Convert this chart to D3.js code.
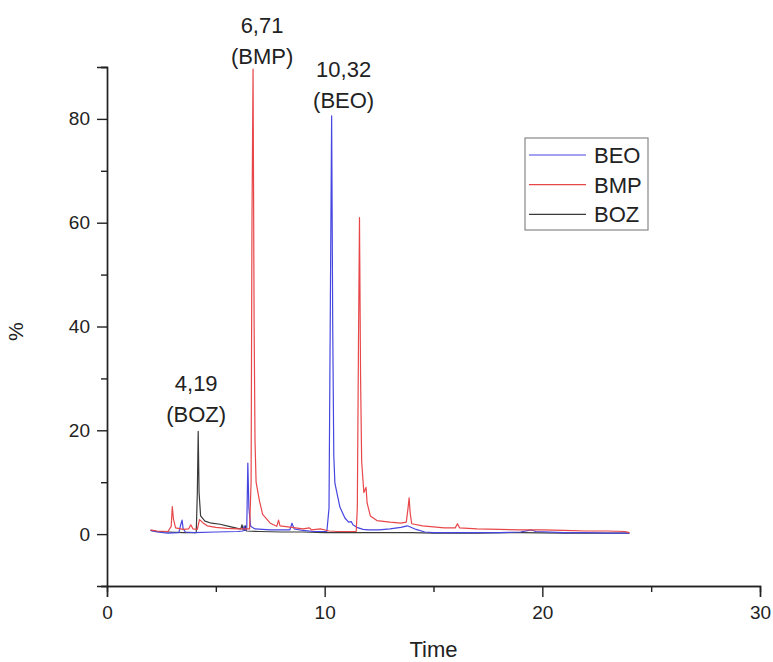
<!DOCTYPE html>
<html>
<head>
<meta charset="utf-8">
<script src="https://cdn.jsdelivr.net/npm/d3@7"></script>
<style>
  body { margin: 0; background: #fff; }
  text { font-family: "Liberation Sans", Arial, sans-serif; fill: #222; }
</style>
</head>
<body>
<div id="container"></div>
<script>
/* CONSTANTS AND GLOBALS */
const width = 773,
  height = 662,
  margin = {top: 67, bottom: 76, left: 107, right: 13};

// series: [time, %]
const beo = [
  [2.0,0.7],[2.3,0.4],[2.8,0.2],[3.3,0.3],[3.4,2.0],[3.45,2.7],[3.5,1.0],[3.6,0.4],
  [4.0,0.3],[5.0,0.4],[6.0,0.5],[6.25,0.6],[6.3,1.6],[6.35,0.7],[6.42,1.0],[6.47,13.7],
  [6.52,5],[6.6,1.5],[6.8,1.0],[7.5,0.8],[8.4,0.8],[8.5,2.1],[8.6,1.0],[9.0,0.7],
  [9.5,0.5],[10.1,0.5],[10.2,5],[10.27,50],[10.32,80.6],[10.37,40],[10.42,15],[10.47,9.8],
  [10.7,5.2],[10.93,3.1],[11.1,2.3],[11.22,2.4],[11.3,1.8],[11.48,1.3],[11.76,0.9],[12.0,0.8],
  [12.5,0.8],[13.0,1.0],[13.5,1.3],[13.8,1.6],[14.2,0.9],[14.6,0.4],[15,0.3],[16,0.3],
  [17,0.3],[18,0.3],[19,0.4],[19.5,0.8],[19.7,0.5],[21,0.3],[22,0.3],[23,0.2],[24,0.2]
];
const bmp = [
  [2.0,0.8],[2.3,0.6],[2.8,0.5],[2.95,1.5],[3.0,5.3],[3.05,3.0],[3.15,1.2],[3.5,0.9],
  [3.75,1.0],[3.85,1.8],[3.95,1.0],[4.15,0.9],[4.25,2.8],[4.4,2.2],[4.6,1.6],[5.0,1.3],
  [5.5,1.1],[6.0,1.0],[6.55,1.0],[6.62,10],[6.66,60],[6.71,89.6],[6.76,40],[6.8,18],
  [6.85,10],[7.0,6.5],[7.15,3.8],[7.5,2.1],[7.8,1.5],[7.88,2.7],[7.95,1.6],[8.5,1.3],
  [9.0,1.0],[9.3,1.2],[9.4,0.8],[9.8,1.0],[10.2,0.6],[10.6,0.5],[11.0,0.5],[11.45,0.5],
  [11.5,5],[11.55,35],[11.6,61],[11.65,30],[11.7,14],[11.8,8],[11.9,9],[11.95,6],
  [12.1,3.5],[12.4,2.6],[13.0,2.3],[13.5,2.1],[13.75,2.3],[13.83,5],[13.88,7],[13.93,4],
  [14.0,2.0],[14.5,1.6],[15.0,1.4],[15.5,1.2],[16.0,1.2],[16.1,2.0],[16.2,1.2],[17,1.0],
  [18,0.9],[19,0.8],[20,0.8],[21,0.7],[22,0.6],[23,0.6],[23.8,0.5],[24.0,0.3]
];
const boz = [
  [2.0,0.7],[2.3,0.5],[2.8,0.4],[3.5,0.3],[4.1,0.3],[4.15,8],[4.19,19.8],[4.23,8],
  [4.3,3.5],[4.5,2.5],[4.8,2.1],[5.2,1.9],[5.6,1.5],[6.0,1.1],[6.15,1.0],[6.2,1.8],
  [6.25,0.9],[6.32,0.7],[6.36,1.6],[6.4,0.6],[7,0.5],[8,0.4],[9,0.4],[10,0.3],
  [11,0.3],[12,0.3],[13,0.3],[14,0.3],[15,0.2],[17,0.2],[19,0.3],[21,0.2],[23,0.2],[24,0.2]
];

const seriesNames = ["BEO", "BMP", "BOZ"];
const xTicks = [0, 10, 20, 30];
const yTicks = [0, 20, 40, 60, 80];

// peak labels
const peakTimes = [6.71, 10.32, 4.19];
const peakValues = [89.6, 80.6, 19.8];
const peakLabels = ["6,71", "10,32", "4,19"];
const peakNames = ["(BMP)", "(BEO)", "(BOZ)"];

const color = d3.scaleOrdinal()
  .domain(seriesNames)
  .range(["#4646e0", "#e8474a", "#3a3a3a"]);

const xScale = d3.scaleLinear().domain([0, 30]).range([margin.left, width - margin.right]);
const yScale = d3.scaleLinear().domain([-10, 90]).range([height - margin.bottom, margin.top]);

const svg = d3.select("#container")
  .append("svg")
  .attr("width", width)
  .attr("height", height);

/* AXES */
const xAxis = d3.axisBottom(xScale).tickValues(xTicks).tickSize(11).tickFormat(d3.format("d"));
const xMinor = d3.axisBottom(xScale).tickValues([5, 15, 25]).tickSize(6).tickFormat("");
const yAxis = d3.axisLeft(yScale).tickValues(yTicks).tickSize(10).tickFormat(d3.format("d"));
const yMinor = d3.axisLeft(yScale).tickValues([-10, 10, 30, 50, 70, 90]).tickSize(6).tickFormat("");

const gx = svg.append("g").attr("transform", `translate(0,${yScale(-10)})`).call(xAxis);
svg.append("g").attr("transform", `translate(0,${yScale(-10)})`).call(xMinor);
const gy = svg.append("g").attr("transform", `translate(${xScale(0)},0)`).call(yAxis);
svg.append("g").attr("transform", `translate(${xScale(0)},0)`).call(yMinor);

svg.selectAll(".domain").attr("stroke", "#222").attr("stroke-width", 1.4);
svg.selectAll(".tick line").attr("stroke", "#222").attr("stroke-width", 1.4);
gx.selectAll("text").attr("font-size", 19).attr("y", 33).attr("dy", 0).attr("fill", "#222");
gy.selectAll("text").attr("font-size", 19).attr("x", -17).attr("fill", "#222");

// axis titles
svg.append("text")
  .attr("x", xScale(15))
  .attr("y", 657)
  .attr("text-anchor", "middle")
  .attr("font-size", 22)
  .text("Time");

svg.append("text")
  .attr("transform", `translate(23,${yScale(39)}) rotate(-90)`)
  .attr("text-anchor", "middle")
  .attr("font-size", 21)
  .text("%");

/* LINES */
const line = d3.line()
  .x(d => xScale(d[0]))
  .y(d => yScale(d[1]));

const allSeries = [beo, bmp, boz];
// draw BOZ first, then BEO, then BMP on top
[2, 0, 1].forEach(i => {
  svg.append("path")
    .datum(allSeries[i])
    .attr("fill", "none")
    .attr("stroke", color(seriesNames[i]))
    .attr("stroke-width", 1.2)
    .attr("stroke-linejoin", "round")
    .attr("d", line);
});

/* PEAK LABELS */
const labelShift = [9, 12, -2];
const labelGap = [5, 8, 9];
peakTimes.forEach((t, i) => {
  const px = xScale(t) + labelShift[i];
  const py = yScale(peakValues[i]) - labelGap[i];
  svg.append("text")
    .attr("x", px).attr("y", py - 31)
    .attr("text-anchor", "middle")
    .attr("font-size", 22)
    .text(peakLabels[i]);
  svg.append("text")
    .attr("x", px).attr("y", py)
    .attr("text-anchor", "middle")
    .attr("font-size", 22)
    .text(peakNames[i]);
});

/* LEGEND */
const legend = svg.append("g").attr("transform", "translate(525,138)");
legend.append("rect")
  .attr("width", 123)
  .attr("height", 92)
  .attr("fill", "#fff")
  .attr("stroke", "#888")
  .attr("stroke-width", 1.2);

seriesNames.forEach((name, i) => {
  const y = 17 + i * 29.7;
  legend.append("line")
    .attr("x1", 4).attr("x2", 61)
    .attr("y1", y).attr("y2", y)
    .attr("stroke", color(name))
    .attr("stroke-width", 1.2);
  legend.append("text")
    .attr("x", 69).attr("y", y + 8)
    .attr("font-size", 22)
    .text(name);
});
</script>
</body>
</html>
